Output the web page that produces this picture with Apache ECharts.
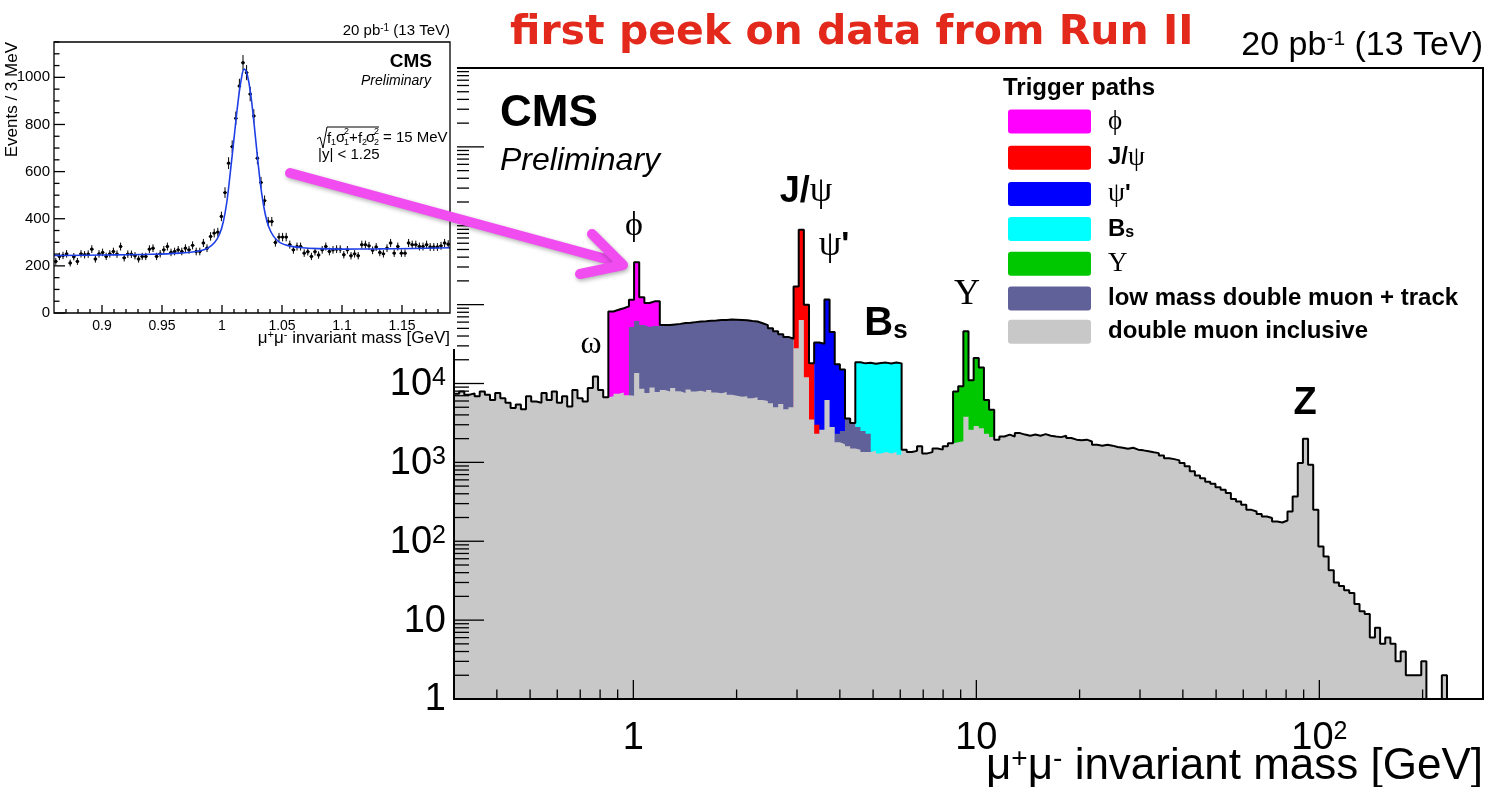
<!DOCTYPE html>
<html>
<head>
<meta charset="utf-8">
<title>Dimuon invariant mass spectrum</title>
<script src="https://cdn.jsdelivr.net/npm/echarts@6/dist/echarts.min.js"></script>
<style>
  html, body { margin: 0; padding: 0; background: #ffffff; }
  #chart { width: 1488px; height: 787px; }
</style>
</head>
<body>
<div id="chart"></div>
<script>
// ---------- main spectrum: 200 log-spaced bins from 0.3 to 300 GeV ----------
const massMin = 0.3;
const massMax = 300;
const nBins = 200;

// double muon inclusive trigger, events per bin
const doubleMuonInclusive = [
  7400, 7900, 7200, 7500, 6900, 7900, 7200, 6200, 7600, 6500,
  5700, 4900, 5400, 4700, 6900, 5900, 5700, 7600, 6200, 7900,
  5700, 6900, 5100, 8300, 6500, 5900, 8800, 12300, 8300, 6700,
  6900, 7400, 7700, 7100, 7000, 13600, 8600, 7600, 8900, 7800,
  8300, 7900, 8800, 8000, 7600, 8400, 7900, 8100, 7800, 8300,
  7700, 7500, 7800, 7200, 7000, 6800, 6900, 6500, 6700, 6200,
  6000, 5600, 5000, 5500, 4700, 5000, 28000, 64000, 12000, 3500,
  2300, 2600, 6200, 2800, 1800, 1700, 1600, 1500, 1450, 1350,
  1350, 1400, 1300, 1350, 1300, 1350, 1250, 1450, 1350, 1400,
  1600, 1300, 1350, 1500, 1450, 1600, 1750, 1800, 1850, 3800,
  2600, 2900, 2700, 2300, 2100, 1940, 2130, 2250, 2130, 2350,
  2250, 2180, 2250, 2180, 2280, 2180, 2130, 2090, 2180, 2040,
  1940, 1910, 1940, 1840, 1670, 1630, 1670, 1630, 1570, 1530,
  1490, 1530, 1450, 1420, 1380, 1340, 1310, 1220, 1130, 1100,
  1060, 980, 890, 770, 680, 630, 570, 535, 485, 450,
  410, 343, 318, 290, 250, 238, 222, 206, 197, 178,
  173, 183, 238, 370, 980, 2000, 930, 250, 86, 64,
  43, 30, 27, 24, 22, 16, 13, 12, 6, 8,
  5, 6, 5, 3, 4, 2, 2, 2, 3, 1,
  1, 1, 2, 1, null, null, null, null, null, null
];

// other trigger paths: top of each filled region, first bin given by *Start
const lowMassTrackStart = 34;
const lowMassTrackCounts = [
  52000, 62000, 55000, 52000, 54000, 53000, 55000, 55000, 56000, 57000,
  58500, 59000, 60000, 61000, 61500, 62500, 63000, 64000, 64000, 65000,
  64500, 64000, 63500, 62000, 61000, 58000, 55000, 50000, 46000, 42000,
  39000, 37000, null, null, null, null, null, null, null, null,
  2300, 2500, 3600, 3150, 2800, 2500, 2300
];
const phiStart = 30;
const phiCounts = [82000, 86000, 90000, 95000, 115000, 345000, 124000, 105000, 110000, 110000];
const jpsiStart = 66;
const jpsiCounts = [170000, 890000, 100000, 18000, 3000];
const psiPrimeStart = 70;
const psiPrimeCounts = [33000, 32000, 116000, 45000, 17500, 15000];
const bsStart = 78;
const bsCounts = [18600, 18000, 18300, 17800, 18200, 18400, 17900, 18500, 18000];
const upsilonStart = 97;
const upsilonCounts = [7900, 9200, 46000, 11000, 21000, 16000, 6200, 4650];

// ---------- inset: phi peak, 3 MeV bins from 0.86 to 1.19 GeV ----------
const insetMassMin = 0.86;
const insetBinWidth = 0.003;
const insetCounts = [
  219, 240, 244, 251, 212, 239, 219, 251, 247, 250,
  271, 229, 251, 257, 240, 251, 261, 250, 282, 234,
  250, 249, 243, 229, 240, 240, 271, 275, 240, 251,
  268, 282, 257, 261, 268, 261, 275, 268, 287, 261,
  261, 297, 275, 325, 339, 343, 410, 511, 636, 706,
  826, 963, 1062, 1020, 929, 836, 657, 554, 477, 388,
  388, 299, 322, 322, 322, 290, 268, 282, 282, 254,
  260, 240, 260, 246, 268, 282, 261, 268, 271, 271,
  247, 268, 243, 251, 243, 290, 290, 285, 266, 280,
  257, 251, 275, 297, 254, 282, 254, 254, 297, 290,
  290, 282, 282, 290, 280, 280, 280, 285, 297, 292
];
const insetFitMass = [0.86, 0.90, 0.94, 0.965, 0.98, 0.988, 0.994, 0.998, 1.001, 1.004,
  1.007, 1.010, 1.013, 1.016, 1.0185, 1.021, 1.024, 1.027, 1.030, 1.033,
  1.036, 1.039, 1.043, 1.048, 1.055, 1.065, 1.08, 1.10, 1.13, 1.16, 1.19];
const insetFitValue = [244, 246, 249, 254, 262, 275, 300, 335, 385, 470,
  600, 740, 880, 990, 1035, 1012, 925, 790, 640, 510,
  420, 365, 325, 300, 286, 278, 273, 271, 272, 274, 277];

// ---------- ticks and tick labels ----------
const xMajorTicks = [1, 10, 100];
const xTickLabels = ['1', '10', '10^2'];
const yMajorTicks = [1, 10, 100, 1e3, 1e4, 1e5, 1e6, 1e7, 1e8];
const yTickLabels = ['1', '10', '10^2', '10^3', '10^4', '10^5', '10^6', '10^7', '10^8'];
const minorSteps = [2, 3, 4, 5, 6, 7, 8, 9];
const insetXLabels = [0.9, 0.95, 1, 1.05, 1.1, 1.15];
const insetYLabels = [0, 200, 400, 600, 800, 1000];

// ---------- layout ----------
const MAIN = { left: 454, top: 68, width: 1029, height: 631 };
const INSET = { left: 54, top: 42, width: 396, height: 271 };
const SANS = '"Liberation Sans", Arial, Helvetica, sans-serif';
const SERIF = '"Liberation Serif", "DejaVu Serif", "Times New Roman", serif';

const COLORS = {
  phi: '#ff00ff', jpsi: '#ff0000', psiPrime: '#0000ff', bs: '#00ffff',
  upsilon: '#00c800', lowMass: '#616199', inclusive: '#c8c8c8'
};

const binEdge = i => massMin * Math.pow(massMax / massMin, i / nBins);

// histogram step outline: two points per bin, gaps where a bin is empty
function stepPoints(start, counts) {
  const pts = [];
  counts.forEach((v, k) => {
    const i = start + k;
    if (v == null) { pts.push([binEdge(i), '-']); return; }
    pts.push([binEdge(i), v], [binEdge(i + 1), v]);
  });
  return pts;
}

const triggerPaths = [
  { key: 'phi', name: 'ϕ', start: phiStart, counts: phiCounts },
  { key: 'jpsi', name: 'J/ψ', start: jpsiStart, counts: jpsiCounts },
  { key: 'psiPrime', name: "ψ'", start: psiPrimeStart, counts: psiPrimeCounts },
  { key: 'bs', name: 'Bs', start: bsStart, counts: bsCounts },
  { key: 'upsilon', name: 'Υ', start: upsilonStart, counts: upsilonCounts },
  { key: 'lowMass', name: 'low mass double muon + track', start: lowMassTrackStart, counts: lowMassTrackCounts },
  { key: 'inclusive', name: 'double muon inclusive', start: 0, counts: doubleMuonInclusive }
];
// back-to-front drawing order of the filled regions
const drawOrder = ['phi', 'bs', 'upsilon', 'psiPrime', 'jpsi', 'lowMass', 'inclusive'];

// total of all paths = upper envelope
const totalCounts = doubleMuonInclusive.map((v, i) => {
  let m = v;
  triggerPaths.forEach(t => {
    const k = i - t.start;
    if (k >= 0 && k < t.counts.length && t.counts[k] != null) {
      m = m == null ? t.counts[k] : Math.max(m, t.counts[k]);
    }
  });
  return m;
});

function fillSeries(t) {
  const color = COLORS[t.key];
  return {
    name: t.name, type: 'line', xAxisIndex: 0, yAxisIndex: 0,
    data: stepPoints(t.start, t.counts),
    symbol: 'none', showSymbol: false, silent: true,
    itemStyle: { color },
    lineStyle: { width: 0, color },
    areaStyle: { color, opacity: 1, origin: 'start' },
    z: 2
  };
}

// ---------- tick marks (main + inset) ----------
const mainTicks = [];
xMajorTicks.forEach(v => mainTicks.push([v, 1, 0, 1]));
for (let e = -1; e <= 2; e++) {
  minorSteps.forEach(s => {
    const v = s * Math.pow(10, e);
    if (v > massMin * 1.001 && v < massMax * 0.999) mainTicks.push([v, 1, 0, 0]);
  });
}
yMajorTicks.forEach(v => mainTicks.push([massMin, v, 1, 1]));
for (let e = 0; e < 8; e++) {
  minorSteps.forEach(s => mainTicks.push([massMin, s * Math.pow(10, e), 1, 0]));
}

const insetTicks = [];
for (let k = 87; k <= 118; k++) {
  const v = k / 100;
  const major = insetXLabels.some(m => Math.abs(m - v) < 1e-9) ? 1 : 0;
  insetTicks.push([v, 0, 0, major]);
}
for (let k = 0; k <= 1150; k += 50) {
  insetTicks.push([insetMassMin, k, 1, k % 200 === 0 ? 1 : 0]);
}

function tickRenderer(xLen, yLen) {
  return function (params, api) {
    const p = api.coord([api.value(0), api.value(1)]);
    const major = api.value(3) === 1;
    if (api.value(2) === 0) {
      const len = major ? xLen : xLen / 2;
      return { type: 'line', shape: { x1: p[0], y1: p[1], x2: p[0], y2: p[1] - len },
        style: { stroke: '#000', lineWidth: 1.3 } };
    }
    const len = major ? yLen : yLen / 2;
    return { type: 'line', shape: { x1: p[0], y1: p[1], x2: p[0] + len, y2: p[1] },
      style: { stroke: '#000', lineWidth: 1.3 } };
  };
}

// rich text "10^2" -> base + superscript
const toRich = s => {
  const parts = s.split('^');
  return parts.length > 1 ? '{b|' + parts[0] + '}{s|' + parts[1] + '}' : '{b|' + s + '}';
};
const tickRich = {
  b: { fontFamily: SANS, fontSize: 38, lineHeight: 38, fill: '#000' },
  s: { fontFamily: SANS, fontSize: 25, lineHeight: 16, verticalAlign: 'top', fill: '#000' }
};
const mainLabels = [];
xMajorTicks.forEach((v, i) => mainLabels.push({ axis: 'x', x: v, y: 1, text: xTickLabels[i] }));
yMajorTicks.forEach((v, i) => mainLabels.push({ axis: 'y', x: massMin, y: v, text: yTickLabels[i] }));

// ---------- legend label formatting ----------
const legendText = {
  'ϕ': '{gap| }{g|ϕ}',
  'J/ψ': '{gap| }{b|J/}{g|ψ}',
  "ψ'": "{gap| }{g|ψ}{b|'}",
  'Bs': '{gap| }{b|B}{sub|s}',
  'Υ': '{gap| }{g|Υ}',
  'low mass double muon + track': '{gap| }{b|low mass double muon + track}',
  'double muon inclusive': '{gap| }{b|double muon inclusive}'
};

// ---------- series ----------
const series = [];
drawOrder.forEach(key => series.push(fillSeries(triggerPaths.find(t => t.key === key))));
series.push({
  name: 'total', type: 'line', xAxisIndex: 0, yAxisIndex: 0,
  data: stepPoints(0, totalCounts), symbol: 'none', showSymbol: false, silent: true,
  lineStyle: { color: '#000', width: 2 }, z: 2
});
series.push({
  name: 'mainTicks', type: 'custom', xAxisIndex: 0, yAxisIndex: 0, z: 3, silent: true,
  data: mainTicks, renderItem: tickRenderer(19, 30)
});
series.push({
  name: 'mainLabels', type: 'custom', xAxisIndex: 0, yAxisIndex: 0, z: 3, silent: true,
  data: mainLabels.map(l => [l.x, l.y]),
  renderItem: function (params, api) {
    const lab = mainLabels[params.dataIndex];
    const p = api.coord([lab.x, lab.y]);
    if (lab.axis === 'x') {
      return { type: 'text', x: p[0], y: p[1] + 40,
        style: { text: toRich(lab.text), rich: tickRich, align: 'center', verticalAlign: 'middle', fill: '#000' } };
    }
    return { type: 'text', x: p[0] - 8, y: p[1] + 1,
      style: { text: toRich(lab.text), rich: tickRich, align: 'right', verticalAlign: 'middle', fill: '#000' } };
  }
});
// inset
series.push({
  name: 'insetTicks', type: 'custom', xAxisIndex: 1, yAxisIndex: 1, z: 10, silent: true,
  data: insetTicks, renderItem: tickRenderer(8, 11)
});
series.push({
  name: 'insetData', type: 'custom', xAxisIndex: 1, yAxisIndex: 1, z: 10, silent: true,
  data: insetCounts.map((c, i) => [insetMassMin + insetBinWidth * (i + 0.5), c]),
  renderItem: function (params, api) {
    const x = api.value(0), y = api.value(1), err = Math.sqrt(y);
    const c = api.coord([x, y]);
    const lo = api.coord([x, y - err]);
    const hi = api.coord([x, y + err]);
    const l = api.coord([x - insetBinWidth / 2, y]);
    const r = api.coord([x + insetBinWidth / 2, y]);
    return { type: 'group', children: [
      { type: 'line', shape: { x1: c[0], y1: lo[1], x2: c[0], y2: hi[1] }, style: { stroke: '#000', lineWidth: 1 } },
      { type: 'line', shape: { x1: l[0], y1: c[1], x2: r[0], y2: c[1] }, style: { stroke: '#000', lineWidth: 1 } },
      { type: 'circle', shape: { cx: c[0], cy: c[1], r: 1.7 }, style: { fill: '#000' } }
    ] };
  }
});
series.push({
  name: 'insetFit', type: 'line', xAxisIndex: 1, yAxisIndex: 1, z: 11, silent: true,
  data: insetFitMass.map((m, i) => [m, insetFitValue[i]]),
  smooth: 0.4, symbol: 'none', showSymbol: false,
  lineStyle: { color: '#1f3fe6', width: 1.6 }
});

// ---------- annotations ----------
const T = (x, y, text, font, extra) => ({
  type: 'text', x, y, z: 20,
  style: Object.assign({ text, font, fill: '#000', align: 'left', verticalAlign: 'middle' }, extra || {})
});

const graphics = [
  // main frame
  { type: 'rect', z: 4, silent: true, shape: { x: MAIN.left, y: MAIN.top, width: MAIN.width, height: MAIN.height },
    style: { fill: 'none', stroke: '#000', lineWidth: 2 } },
  // inset pad background
  { type: 'rect', z: 5, silent: true, shape: { x: 0, y: 0, width: 457, height: 349 }, style: { fill: '#fff' } },
  // inset frame
  { type: 'rect', z: 12, silent: true, shape: { x: INSET.left, y: INSET.top, width: INSET.width, height: INSET.height },
    style: { fill: 'none', stroke: '#000', lineWidth: 1.3 } },

  // headline
  T(510, 33, 'first peek on data from Run II', 'bold 41px "DejaVu Sans", "Open Sans", sans-serif', { fill: '#e3281c' }),
  T(1483, 46, '{a|20 pb}{s|-1}{a| (13 TeV)}', '', { align: 'right',
    rich: { a: { fontFamily: SANS, fontSize: 34, lineHeight: 34 }, s: { fontFamily: SANS, fontSize: 21, lineHeight: 14, verticalAlign: 'top' } } }),
  T(500, 114, 'CMS', 'bold 44px ' + SANS),
  T(500, 161, 'Preliminary', 'italic 32px ' + SANS),

  // x-axis title
  T(1483, 767, '{m|μ}{s|+}{m|μ}{s|-}{m| invariant mass [GeV]}', '', { align: 'right',
    rich: { m: { fontFamily: SANS, fontSize: 44, lineHeight: 44 }, s: { fontFamily: SANS, fontSize: 28, lineHeight: 20, verticalAlign: 'top' } } }),

  // resonance labels
  T(591, 345, 'ω', '32px ' + SERIF, { align: 'center' }),
  T(634, 226, 'ϕ', '34px ' + SERIF, { align: 'center' }),
  T(806, 192, '{b|J/}{g|ψ}', '', { align: 'center',
    rich: { b: { fontFamily: SANS, fontWeight: 'bold', fontSize: 36, lineHeight: 36 }, g: { fontFamily: SERIF, fontSize: 36, lineHeight: 36 } } }),
  T(834, 246, "{g|ψ}{b|'}", '', { align: 'center',
    rich: { b: { fontFamily: SANS, fontWeight: 'bold', fontSize: 34, lineHeight: 34 }, g: { fontFamily: SERIF, fontSize: 36, lineHeight: 36 } } }),
  T(886, 324, '{b|B}{sub|s}', '', { align: 'center',
    rich: { b: { fontFamily: SANS, fontWeight: 'bold', fontSize: 40, lineHeight: 40 }, sub: { fontFamily: SANS, fontWeight: 'bold', fontSize: 26, lineHeight: 8, verticalAlign: 'bottom' } } }),
  T(967, 295, 'Υ', '36px ' + SERIF, { align: 'center' }),
  T(1305, 404, 'Z', 'bold 38px ' + SANS, { align: 'center' }),

  // legend header
  T(1003, 88, 'Trigger paths', 'bold 24px ' + SANS),

  // inset texts
  T(450, 31, '{a|20 pb}{s|-1}{a| (13 TeV)}', '', { align: 'right',
    rich: { a: { fontFamily: SANS, fontSize: 15, lineHeight: 15 }, s: { fontFamily: SANS, fontSize: 10, lineHeight: 7, verticalAlign: 'top' } } }),
  T(432, 62, 'CMS', 'bold 19px ' + SANS, { align: 'right' }),
  T(431, 81, 'Preliminary', 'italic 14px ' + SANS, { align: 'right' }),
  T(450, 338, '{m|μ}{s|+}{m|μ}{s|-}{m| invariant mass [GeV]}', '', { align: 'right',
    rich: { m: { fontFamily: SANS, fontSize: 17, lineHeight: 17 }, s: { fontFamily: SANS, fontSize: 11, lineHeight: 8, verticalAlign: 'top' } } }),
  { type: 'text', x: 12, y: 42, z: 20, rotation: Math.PI / 2,
    style: { text: 'Events / 3 MeV', font: '17px ' + SANS, fill: '#000', align: 'right', verticalAlign: 'middle' } },

  // resolution formula in the inset
  { type: 'polyline', z: 20, shape: { points: [[317, 139], [320, 137], [323, 148], [327, 127], [379, 127]] },
    style: { stroke: '#000', lineWidth: 1, fill: 'none' } },
  T(327, 139, 'f', '15px ' + SANS),
  T(331, 143, '1', '9px ' + SANS),
  T(336, 138, 'σ', '15px ' + SANS),
  T(344, 132, '2', '9px ' + SANS),
  T(344, 143, '1', '9px ' + SANS),
  T(349, 138, '+', '15px ' + SANS),
  T(358, 139, 'f', '15px ' + SANS),
  T(362, 143, '2', '9px ' + SANS),
  T(366, 138, 'σ', '15px ' + SANS),
  T(374, 132, '2', '9px ' + SANS),
  T(374, 143, '2', '9px ' + SANS),
  T(383, 138, '= 15 MeV', '15px ' + SANS),
  T(318, 155, '|y| < 1.25', '15px ' + SANS),

  // arrow from the inset to the phi peak
  { type: 'group', z: 30, children: [
    { type: 'line', z: 30, shape: { x1: 290, y1: 173, x2: 617, y2: 262 },
      style: { stroke: '#f04cf0', lineWidth: 10, lineCap: 'round',
        shadowBlur: 4, shadowColor: 'rgba(0,0,0,0.3)', shadowOffsetX: 1, shadowOffsetY: 2 } },
    { type: 'polyline', z: 30, shape: { points: [[592, 234], [623, 265], [580, 274]] },
      style: { stroke: '#f04cf0', lineWidth: 10, lineCap: 'round', lineJoin: 'round', fill: 'none',
        shadowBlur: 4, shadowColor: 'rgba(0,0,0,0.3)', shadowOffsetX: 1, shadowOffsetY: 2 } }
  ] }
];

const legendOrder = ['ϕ', 'J/ψ', "ψ'", 'Bs', 'Υ', 'low mass double muon + track', 'double muon inclusive'];

const option = {
  animation: false,
  backgroundColor: '#ffffff',
  grid: [
    { left: MAIN.left, top: MAIN.top, width: MAIN.width, height: MAIN.height, containLabel: false, outerBoundsMode: 'none' },
    { left: INSET.left, top: INSET.top, width: INSET.width, height: INSET.height, containLabel: false, outerBoundsMode: 'none' }
  ],
  xAxis: [
    { type: 'log', logBase: 10, gridIndex: 0, min: massMin, max: massMax,
      axisLine: { show: false }, axisTick: { show: false }, axisLabel: { show: false }, splitLine: { show: false } },
    { type: 'value', gridIndex: 1, min: insetMassMin, max: 1.19, z: 10,
      axisLine: { show: false }, axisTick: { show: false }, splitLine: { show: false },
      axisLabel: { customValues: insetXLabels, formatter: v => String(+(+v).toFixed(2)),
        fontFamily: SANS, fontSize: 14, color: '#000', margin: 6 } }
  ],
  yAxis: [
    { type: 'log', logBase: 10, gridIndex: 0, min: 1, max: 1e8,
      axisLine: { show: false }, axisTick: { show: false }, axisLabel: { show: false }, splitLine: { show: false } },
    { type: 'value', gridIndex: 1, min: 0, max: 1150, z: 10,
      axisLine: { show: false }, axisTick: { show: false }, splitLine: { show: false },
      axisLabel: { customValues: insetYLabels, formatter: v => String(Math.round(+v)),
        fontFamily: SANS, fontSize: 15, color: '#000', margin: 4 } }
  ],
  legend: {
    orient: 'vertical', left: 1008, top: 108, padding: 0, z: 6,
    itemWidth: 83, itemHeight: 24, itemGap: 9.3,
    icon: 'path://M3,0H80Q83,0 83,3V21Q83,24 80,24H3Q0,24 0,21V3Q0,0 3,0Z',
    selectedMode: false,
    itemStyle: { borderWidth: 0 },
    data: legendOrder.map(name => {
      const t = triggerPaths.find(p => p.name === name);
      return { name, itemStyle: { color: COLORS[t.key], borderWidth: 0 } };
    }),
    formatter: name => legendText[name],
    textStyle: {
      color: '#000',
      rich: {
        gap: { width: 12, fontSize: 10, lineHeight: 24 },
        b: { fontFamily: SANS, fontWeight: 'bold', fontSize: 24, lineHeight: 24, color: '#000' },
        g: { fontFamily: SERIF, fontSize: 27, lineHeight: 24, color: '#000' },
        sub: { fontFamily: SANS, fontWeight: 'bold', fontSize: 16, lineHeight: 6, verticalAlign: 'bottom', color: '#000' }
      }
    }
  },
  graphic: { elements: graphics },
  series
};

const chart = echarts.init(document.getElementById('chart'), null, { renderer: 'canvas' });
chart.setOption(option);
</script>
</body>
</html>
